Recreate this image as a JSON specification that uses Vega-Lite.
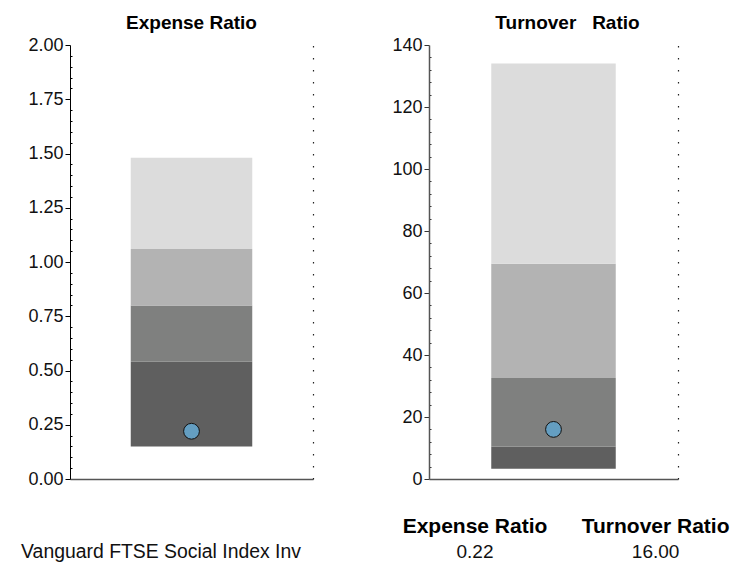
{
  "$schema": "https://vega.github.io/schema/vega-lite/v6.json",
  "padding": {"left": 21, "top": 14, "right": 0, "bottom": 0},
  "config": {
    "view": {"stroke": null},
    "font": "Liberation Sans",
    "concat": {"spacing": 78},
    "title": {"font": "Liberation Sans", "fontSize": 19, "fontWeight": "bold", "color": "#000", "baseline": "alphabetic", "offset": 3}
  },
  "datasets": {
    "funds": [
      {"fund": "Vanguard FTSE Social Index Inv", "metric": "Expense Ratio", "value": 0.22},
      {"fund": "Vanguard FTSE Social Index Inv", "metric": "Turnover Ratio", "value": 16.0}
    ],
    "bands": [
      {"metric": "Expense Ratio", "band": "b1", "lo": 0.15, "hi": 0.54},
      {"metric": "Expense Ratio", "band": "b2", "lo": 0.54, "hi": 0.80},
      {"metric": "Expense Ratio", "band": "b3", "lo": 0.80, "hi": 1.06},
      {"metric": "Expense Ratio", "band": "b4", "lo": 1.06, "hi": 1.48},
      {"metric": "Turnover Ratio", "band": "b1", "lo": 3.3, "hi": 10.5},
      {"metric": "Turnover Ratio", "band": "b2", "lo": 10.5, "hi": 32.6},
      {"metric": "Turnover Ratio", "band": "b3", "lo": 32.6, "hi": 69.4},
      {"metric": "Turnover Ratio", "band": "b4", "lo": 69.4, "hi": 134}
    ]
  },
  "vconcat": [
    {
      "hconcat": [
        {
          "width": 243,
          "height": 434,
          "title": {"text": "Expense Ratio"},
          "layer": [
            {
              "data": {"name": "bands"},
              "transform": [{"filter": "datum.metric === 'Expense Ratio'"}],
              "mark": {"type": "bar"},
              "encoding": {
                "x": {"field": "metric", "type": "nominal", "scale": {"paddingInner": 0, "paddingOuter": 0.5},
                  "axis": {"labels": false, "ticks": false, "title": null, "domainColor": "#555", "domainWidth": 1.5}},
                "y": {"field": "lo", "type": "quantitative", "scale": {"domain": [0, 2], "nice": false, "zero": true},
                  "axis": {"title": null, "grid": false, "values": [0,0.05,0.1,0.15,0.2,0.25,0.3,0.35,0.4,0.45,0.5,0.55,0.6,0.65,0.7,0.75,0.8,0.85,0.9,0.95,1,1.05,1.1,1.15,1.2,1.25,1.3,1.35,1.4,1.45,1.5,1.55,1.6,1.65,1.7,1.75,1.8,1.85,1.9,1.95,2],
                    "labelExpr": "abs(datum.value*4 - round(datum.value*4)) < 1e-6 ? format(datum.value, '.2f') : ''",
                    "labelOverlap": false, "labelFlush": false, "labelFontSize": 18, "labelColor": "#111", "labelFont": "Liberation Sans", "labelPadding": 2,
                    "tickSize": {"condition": {"test": "abs(datum.value*4 - round(datum.value*4)) < 1e-6", "value": 5}, "value": -2},
                    "tickColor": "#000", "domainColor": "#000", "domainWidth": 1,
                    "minExtent": 47, "maxExtent": 47}},
                "y2": {"field": "hi"},
                "color": {"field": "band", "type": "nominal", "legend": null,
                  "scale": {"domain": ["b1", "b2", "b3", "b4"], "range": ["#5f5f5f", "#7f807f", "#b3b3b3", "#dcdcdc"]}}
              }
            },
            {
              "data": {"name": "funds"},
              "transform": [{"filter": "datum.metric === 'Expense Ratio'"}],
              "mark": {"type": "point", "shape": "circle", "filled": true, "size": 250, "fill": "#649ec1", "stroke": "#111", "strokeWidth": 1, "opacity": 1},
              "encoding": {
                "x": {"field": "metric", "type": "nominal"},
                "y": {"field": "value", "type": "quantitative", "scale": {"domain": [0, 2], "nice": false},
                  "axis": {"orient": "right", "labels": false, "ticks": false, "title": null, "grid": false, "domainDash": [1.5, 10.5], "domainColor": "#222", "domainWidth": 1.2, "minExtent": 0, "maxExtent": 0}}
              }
            }
          ],
          "resolve": {"axis": {"y": "independent"}}
        },
        {
          "width": 249,
          "height": 434,
          "title": {"text": "Turnover\u00a0\u00a0\u00a0Ratio", "dx": 14},
          "layer": [
            {
              "data": {"name": "bands"},
              "transform": [{"filter": "datum.metric === 'Turnover Ratio'"}],
              "mark": {"type": "bar"},
              "encoding": {
                "x": {"field": "metric", "type": "nominal", "scale": {"paddingInner": 0, "paddingOuter": 0.5},
                  "axis": {"labels": false, "ticks": false, "title": null, "domainColor": "#555", "domainWidth": 1.5}},
                "y": {"field": "lo", "type": "quantitative", "scale": {"domain": [0, 140], "nice": false, "zero": true},
                  "axis": {"title": null, "grid": false, "values": [0,4,8,12,16,20,24,28,32,36,40,44,48,52,56,60,64,68,72,76,80,84,88,92,96,100,104,108,112,116,120,124,128,132,136,140],
                    "labelExpr": "datum.value % 20 === 0 ? format(datum.value, 'd') : ''",
                    "labelOverlap": false, "labelFlush": false, "labelFontSize": 18, "labelColor": "#111", "labelFont": "Liberation Sans", "labelPadding": 2,
                    "tickSize": {"condition": {"test": "datum.value % 20 === 0", "value": 5}, "value": -2},
                    "tickColor": "#333", "domainColor": "#555", "domainWidth": 1.5,
                    "minExtent": 37, "maxExtent": 37}},
                "y2": {"field": "hi"},
                "color": {"field": "band", "type": "nominal", "legend": null,
                  "scale": {"domain": ["b1", "b2", "b3", "b4"], "range": ["#5f5f5f", "#7f807f", "#b3b3b3", "#dcdcdc"]}}
              }
            },
            {
              "data": {"name": "funds"},
              "transform": [{"filter": "datum.metric === 'Turnover Ratio'"}],
              "mark": {"type": "point", "shape": "circle", "filled": true, "size": 250, "fill": "#649ec1", "stroke": "#111", "strokeWidth": 1, "opacity": 1},
              "encoding": {
                "x": {"field": "metric", "type": "nominal"},
                "y": {"field": "value", "type": "quantitative", "scale": {"domain": [0, 140], "nice": false},
                  "axis": {"orient": "right", "labels": false, "ticks": false, "title": null, "grid": false, "domainDash": [1.5, 10.5], "domainColor": "#222", "domainWidth": 1.2, "minExtent": 0, "maxExtent": 0}}
              }
            }
          ],
          "resolve": {"axis": {"y": "independent"}}
        }
      ]
    },
    {
      "spacing": 83.7,
      "hconcat": [
        {
          "width": 231,
          "height": 25,
          "data": {"name": "funds"},
          "transform": [{"aggregate": [], "groupby": ["fund"]}],
          "mark": {"type": "text", "font": "Liberation Sans", "fontSize": 19.4, "align": "right", "baseline": "alphabetic", "color": "#111"},
          "encoding": {
            "x": {"datum": "name", "type": "nominal", "axis": null, "scale": {"type": "point", "padding": 0, "align": 1}},
            "y": {"datum": "value", "type": "nominal", "axis": null, "scale": {"type": "point", "domain": ["header", "value"], "padding": 0}},
            "text": {"field": "fund"}
          }
        },
        {
          "width": 361.2,
          "height": 25,
          "data": {"name": "funds"},
          "layer": [
            {
              "mark": {"type": "text", "font": "Liberation Sans", "fontSize": 21, "fontWeight": "bold", "align": "center", "baseline": "alphabetic", "color": "#000"},
              "encoding": {
                "x": {"field": "metric", "type": "nominal", "axis": null,
                  "scale": {"type": "point", "domain": ["Expense Ratio", "Turnover Ratio"], "padding": 0.5}},
                "y": {"datum": "header", "type": "nominal", "axis": null, "scale": {"type": "point", "domain": ["header", "value"], "padding": 0}},
                "text": {"field": "metric"}
              }
            },
            {
              "mark": {"type": "text", "font": "Liberation Sans", "fontSize": 19, "align": "center", "baseline": "alphabetic", "color": "#111"},
              "encoding": {
                "x": {"field": "metric", "type": "nominal", "axis": null},
                "y": {"datum": "value", "type": "nominal", "axis": null},
                "text": {"field": "value", "format": ".2f"}
              }
            }
          ]
        }
      ]
    }
  ],
  "spacing": 27.5
}
